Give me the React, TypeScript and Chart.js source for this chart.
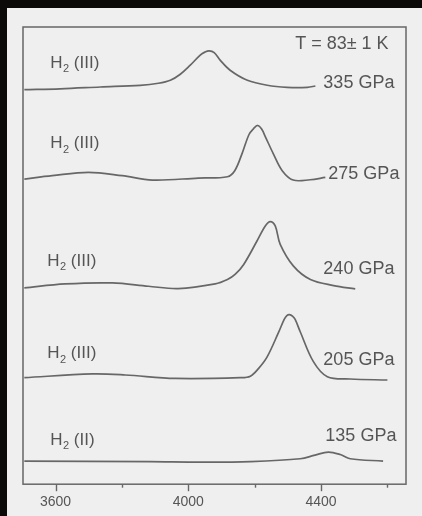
import React, { useEffect, useRef } from "react";
import { Chart, registerables } from "chart.js";

Chart.register(...registerables);

// Raman shift (cm^-1) and vertically offset intensity (arb. units) for each pressure
const wn335 = [3506, 3614, 3735, 3855, 3910, 3946, 3976, 4006, 4036, 4050, 4063, 4078, 4096, 4126, 4178, 4238, 4298, 4359, 4383];
const in335 = [392.7, 393.5, 395.3, 397, 399, 402, 408, 417, 427, 430, 431.3, 429.5, 422, 412, 402, 397, 395, 395, 396.3];

const wn275 = [3506, 3590, 3699, 3801, 3892, 4030, 4118, 4140, 4162, 4183, 4197, 4209, 4221, 4232, 4256, 4283, 4316, 4367, 4413];
const in275 = [303.7, 307, 310.3, 307, 302.7, 304.7, 306, 312, 329, 348, 354, 357, 353.5, 346, 329, 312, 302.7, 303, 305.3];

const wn240 = [3506, 3629, 3771, 3880, 3970, 4081, 4118, 4141, 4167, 4207, 4232, 4247, 4262, 4277, 4317, 4368, 4438, 4503];
const in240 = [195.3, 199.3, 200.3, 197, 194.7, 199.3, 203.7, 208.7, 218.7, 242, 257, 261.3, 257, 238.7, 217, 203.7, 197.7, 194.3];

const wn205 = [3506, 3711, 3810, 3961, 4157, 4187, 4212, 4238, 4271, 4289, 4297, 4305, 4314, 4322, 4337, 4377, 4419, 4488, 4600];
const in205 = [106, 109.7, 108.7, 105.3, 106, 107.5, 115.3, 127, 150.3, 164, 167.8, 168.7, 167.2, 164, 152, 122, 107, 104.7, 103.7];

const wn135 = [3506, 3886, 4036, 4187, 4337, 4382, 4422, 4458, 4488, 4587];
const in135 = [23, 22.5, 22, 22.5, 25.3, 29, 32, 29.5, 25.3, 23];

const pressureLabels = ["335 GPa", "275 GPa", "240 GPa", "205 GPa", "135 GPa"];
const phaseLabels = ["III", "III", "III", "III", "II"];
const temperatureLabel = "T = 83\u00b1 1 K";

// label anchors in data units (cm^-1, offset intensity)
const pressureLabelX = [4407, 4422, 4407, 4407, 4413];
const pressureLabelY = [400, 310, 215, 125, 49];
const phaseLabelX = [3584, 3584, 3575, 3575, 3584];
const phaseLabelY = [419, 339, 222, 130, 44];
const tempLabelX = 4322;
const tempLabelY = 439;

const tickValues = [3600, 3800, 4000, 4200, 4400, 4600];
const majorTicks = [3600, 4000, 4400];

const X_MIN = 3502;
const X_MAX = 4656;
const Y_MIN = 0;
const Y_MAX = 455;

const LINE = "#676767";
const TEXT = "#555555";
const FONT = "Liberation Sans, Arial, sans-serif";

function toPoints(xs: number[], ys: number[]) {
  return xs.map((x, i) => ({ x, y: ys[i] }));
}

const decorPlugin = {
  id: "decor",
  afterDraw(chart: any) {
    const { ctx, chartArea, scales } = chart;
    const xs = scales.x;
    const ys = scales.y;
    ctx.save();
    // frame
    ctx.strokeStyle = LINE;
    ctx.lineWidth = 1.5;
    ctx.strokeRect(chartArea.left, chartArea.top, chartArea.right - chartArea.left, chartArea.bottom - chartArea.top);
    // tick marks below the axis
    ctx.lineWidth = 1.4;
    tickValues.forEach((v) => {
      const px = Math.round(xs.getPixelForValue(v)) + 0.5;
      const len = majorTicks.includes(v) ? 7 : 3.5;
      ctx.beginPath();
      ctx.moveTo(px, chartArea.bottom);
      ctx.lineTo(px, chartArea.bottom + len);
      ctx.stroke();
    });
    // texts
    ctx.fillStyle = TEXT;
    ctx.textBaseline = "middle";
    ctx.textAlign = "left";
    ctx.font = `18px ${FONT}`;
    pressureLabels.forEach((t, i) => {
      ctx.fillText(t, xs.getPixelForValue(pressureLabelX[i]), ys.getPixelForValue(pressureLabelY[i]) + 1);
    });
    ctx.fillText(temperatureLabel, xs.getPixelForValue(tempLabelX), ys.getPixelForValue(tempLabelY) + 1);
    phaseLabels.forEach((p, i) => {
      let x = xs.getPixelForValue(phaseLabelX[i]);
      const y = ys.getPixelForValue(phaseLabelY[i]);
      ctx.font = `17px ${FONT}`;
      ctx.fillText("H", x, y);
      x += ctx.measureText("H").width + 0.5;
      ctx.font = `11px ${FONT}`;
      ctx.fillText("2", x, y + 6);
      x += ctx.measureText("2").width;
      ctx.font = `17px ${FONT}`;
      ctx.fillText(` (${p})`, x, y);
    });
    ctx.restore();
  },
};

export default function App() {
  const ref = useRef<HTMLCanvasElement | null>(null);

  useEffect(() => {
    if (!ref.current) return;
    const series = [
      toPoints(wn335, in335),
      toPoints(wn275, in275),
      toPoints(wn240, in240),
      toPoints(wn205, in205),
      toPoints(wn135, in135),
    ];
    const chart = new Chart(ref.current, {
      type: "line",
      data: {
        datasets: series.map((d, i) => ({
          label: pressureLabels[i],
          data: d,
          borderColor: LINE,
          borderWidth: 1.7,
          pointRadius: 0,
          fill: false,
          tension: 0.35,
        })),
      },
      options: {
        responsive: false,
        animation: false,
        layout: { padding: { left: 23, right: 16, top: 27, bottom: -5 } },
        plugins: { legend: { display: false }, tooltip: { enabled: false } },
        scales: {
          x: {
            type: "linear",
            min: X_MIN,
            max: X_MAX,
            afterBuildTicks: (scale: any) => {
              scale.ticks = tickValues.map((v) => ({ value: v }));
            },
            grid: { display: false, drawTicks: false },
            border: { display: false },
            ticks: {
              autoSkip: false,
              maxRotation: 0,
              padding: 10,
              color: TEXT,
              font: { family: FONT, size: 14 },
              callback: (v: any) => (majorTicks.includes(Number(v)) ? String(v) : ""),
            },
          },
          y: {
            type: "linear",
            min: Y_MIN,
            max: Y_MAX,
            display: false,
          },
        },
      },
      plugins: [decorPlugin],
    });
    return () => chart.destroy();
  }, []);

  return (
    <div style={{ position: "fixed", left: 0, top: 0, width: 422, height: 516, background: "#0b0a09", overflow: "hidden" }}>
      <div style={{ position: "absolute", left: 7, top: 8, right: 0, bottom: 0, background: "#efefef" }} />
      <canvas ref={ref} width={422} height={516} style={{ position: "absolute", left: 0, top: 0, display: "block" }} />
    </div>
  );
}
